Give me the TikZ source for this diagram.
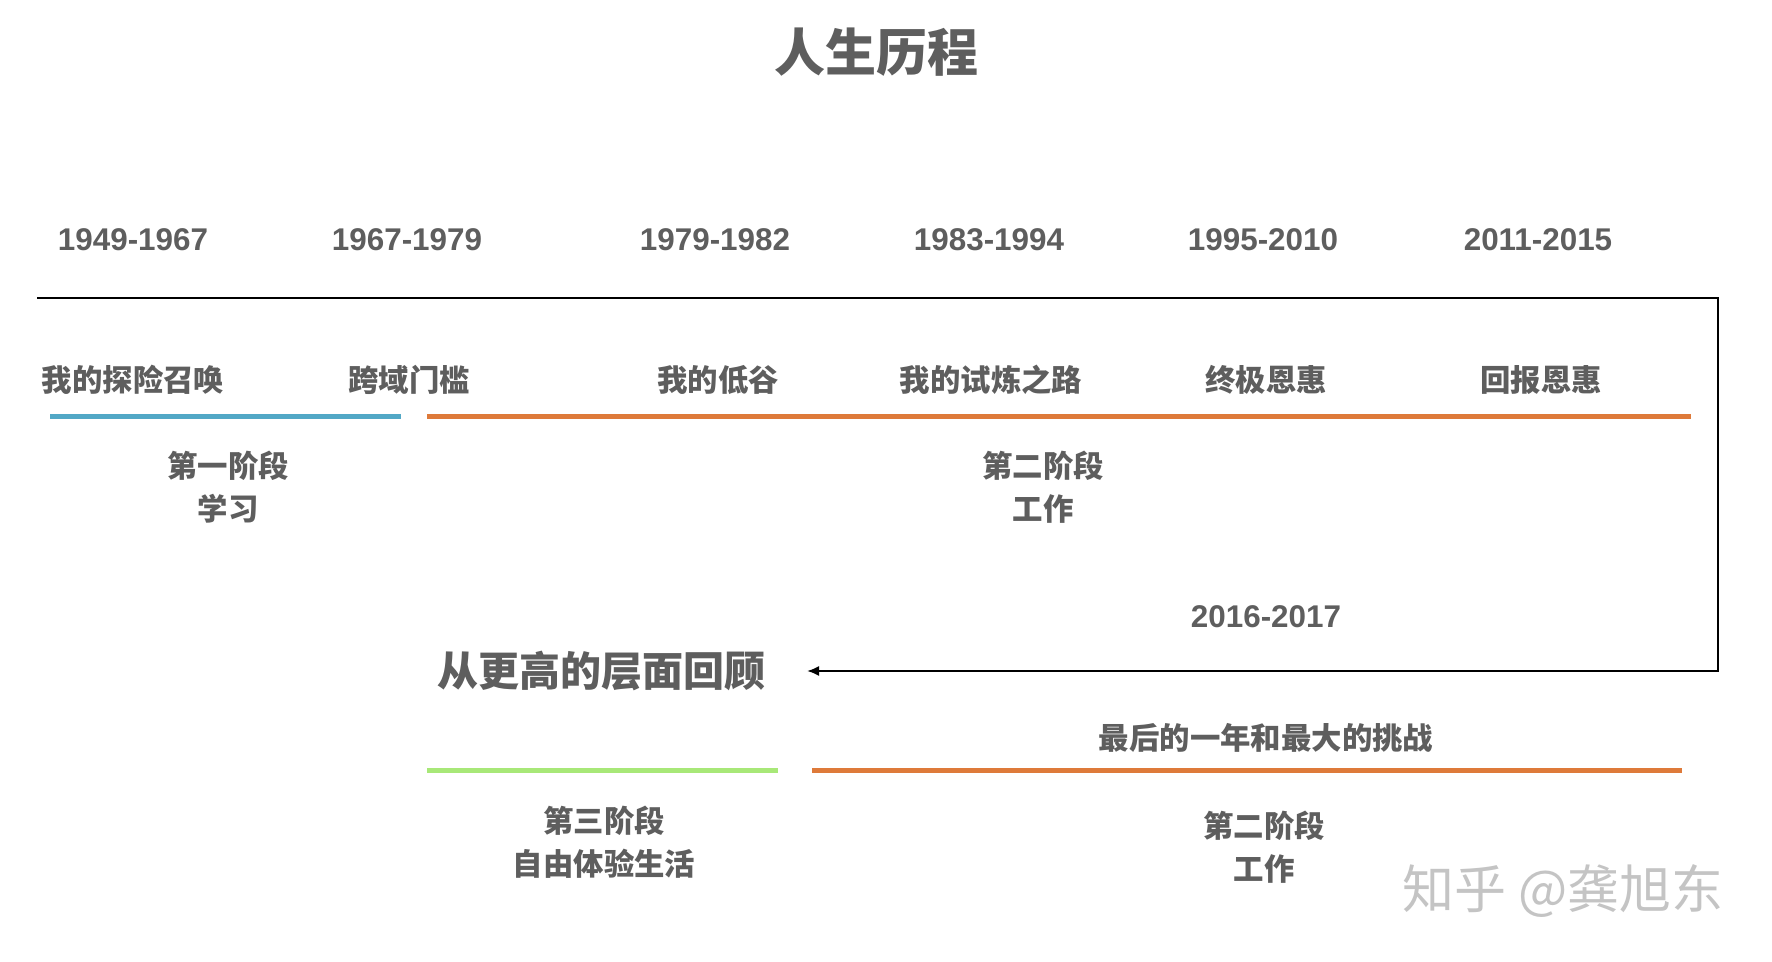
\documentclass[tikz,border=0pt]{standalone}
\usepackage{fontspec}
\setmainfont{Liberation Sans}
\newfontfamily\cjk{Noto Sans CJK SC}
\usetikzlibrary{arrows.meta}
\definecolor{txt}{HTML}{5E5E5E}
\definecolor{cblue}{HTML}{52A8C6}
\definecolor{corange}{HTML}{DE7A3A}
\definecolor{cgreen}{HTML}{A8E878}
\definecolor{wm}{HTML}{C4C4C4}
\tikzset{
  yearlbl/.style={text=txt, font=\fontsize{15.7}{18}\selectfont\bfseries, inner sep=0pt},
  cjklbl/.style={text=txt, font=\cjk\fontsize{15.2}{21.5}\selectfont\bfseries, inner sep=0pt, align=center},
  biglbl/.style={text=txt, font=\cjk\fontsize{20.5}{24}\selectfont\bfseries, inner sep=0pt},
  titlelbl/.style={text=txt, font=\cjk\fontsize{25.5}{30}\selectfont\bfseries, inner sep=0pt},
  stagebar/.style={line width=2.5pt},
  axis/.style={line width=1pt, black}
}
\begin{document}
\begin{tikzpicture}[x=0.5pt, y=-0.5pt]
\useasboundingbox[fill=white] (0,0) rectangle (1772,962);
% title
\node[titlelbl] (title) at (876,52) {人生历程};
% years
\node[yearlbl] (y1) at (133,240) {1949-1967};
\node[yearlbl] (y2) at (407,240) {1967-1979};
\node[yearlbl] (y3) at (715,240) {1979-1982};
\node[yearlbl] (y4) at (989,240) {1983-1994};
\node[yearlbl] (y5) at (1263,240) {1995-2010};
\node[yearlbl] (y6) at (1538,240) {2011-2015};
% stage names
\node[cjklbl] (s1) at (133,380) {我的探险召唤};
\node[cjklbl] (s2) at (409,380) {跨域门槛};
\node[cjklbl] (s3) at (718,380) {我的低谷};
\node[cjklbl] (s4) at (991,380) {我的试炼之路};
\node[cjklbl] (s5) at (1266,380) {终极恩惠};
\node[cjklbl] (s6) at (1541,380) {回报恩惠};
% colored bars
\coordinate (b1a) at (50,417);
\coordinate (b1b) at (401,417);
\coordinate (b2a) at (427,417);
\coordinate (b2b) at (1691,417);
\draw[stagebar, cblue] (b1a) -- (b1b);
\draw[stagebar, corange] (b2a) -- (b2b);
% phases
\node[cjklbl] (p1) at (228,487) {第一阶段\\学习};
\node[cjklbl] (p2) at (1043,487) {第二阶段\\工作};
% connector
\coordinate (tl) at (37,298);
\coordinate (tr) at (1718,298);
\coordinate (br) at (1718,671);
\coordinate (al) at (807,671);
\draw[axis, -{Latex[length=6pt,width=5pt]}] (tl) -- (tr) -- (br) -- (al);
% lower section
\node[yearlbl] (y7) at (1266,617) {2016-2017};
\node[biglbl] (review) at (601,671) {从更高的层面回顾};
\node[cjklbl] (last) at (1266,738) {最后的一年和最大的挑战};
\coordinate (g1a) at (427,770);
\coordinate (g1b) at (778,770);
\coordinate (o2a) at (812,770);
\coordinate (o2b) at (1682,770);
\draw[stagebar, cgreen] (g1a) -- (g1b);
\draw[stagebar, corange] (o2a) -- (o2b);
\node[cjklbl] (p3) at (604,842) {第三阶段\\自由体验生活};
\node[cjklbl] (p4) at (1264,847) {第二阶段\\工作};
% watermark
\node[text=wm, font=\cjk\fontsize{26}{30}\selectfont, inner sep=0pt] (wmk) at (1563,891) {知乎 @龚旭东};
\end{tikzpicture}
\end{document}
